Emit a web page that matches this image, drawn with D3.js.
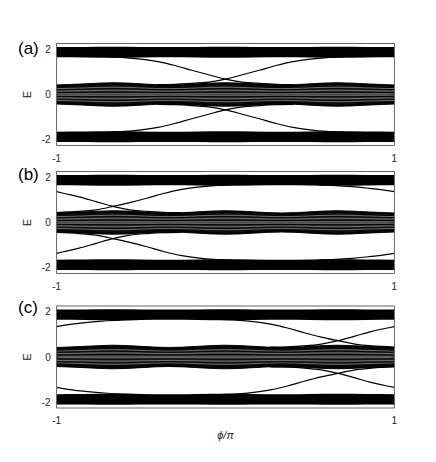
<!DOCTYPE html>
<html><head><meta charset="utf-8">
<script src="https://cdn.jsdelivr.net/npm/d3@7/dist/d3.min.js"></script>
<style>body{margin:0;background:#fff}svg{display:block}</style>
</head><body>
<svg id="chart" width="436" height="462"></svg>
<script>
// ---------- data ----------
const phiTicks = [-1, 1];
const eTicks = [2, 0, -2];
const panelLabels = ["(a)", "(b)", "(c)"];
const xLabel = "\u03D5/\u03C0";
const yLabel = "E";

// bulk band envelopes (E) sampled at phiGrid (same in every panel)
const phiGrid = [-1, -0.833, -0.667, -0.5, -0.333, -0.167, 0, 0.167, 0.333, 0.5, 0.667, 0.833, 1];
const upperBandTop    = [2.10, 2.10, 2.11, 2.10, 2.10, 2.10, 2.11, 2.10, 2.10, 2.10, 2.11, 2.10, 2.10];
const upperBandBottom = [1.64, 1.63, 1.62, 1.63, 1.64, 1.63, 1.62, 1.63, 1.64, 1.63, 1.62, 1.63, 1.64];
const lowerBandTop    = [-1.64, -1.63, -1.62, -1.63, -1.64, -1.63, -1.62, -1.63, -1.64, -1.63, -1.62, -1.63, -1.64];
const lowerBandBottom = [-2.10, -2.10, -2.11, -2.10, -2.10, -2.10, -2.11, -2.10, -2.10, -2.10, -2.11, -2.10, -2.10];
const middleBandTop    = [0.42, 0.47, 0.52, 0.47, 0.42, 0.47, 0.52, 0.47, 0.42, 0.47, 0.52, 0.47, 0.42];
const middleBandBottom = [-0.42, -0.47, -0.52, -0.47, -0.42, -0.47, -0.52, -0.47, -0.42, -0.47, -0.52, -0.47, -0.42];
// relative position of the eigenvalue lines inside the middle band (-1 bottom .. 1 top)
const middleDarkLevels  = [1, 0.95, 0.89, 0.82, 0.73, 0.5, 0.2, -0.2, -0.5, -0.73, -0.82, -0.89, -0.95, -1];
const middleLightLevels = [0.62, 0.36, 0.07, -0.07, -0.36, -0.62];

// in-gap (edge) states, [phi/pi, E]
const edgeA1 = [[-0.7,1.66],[-0.6,1.63],[-0.5,1.56],[-0.4,1.45],[-0.3,1.28],[-0.2,1.07],[-0.1,0.87],[0,0.68],[0.1,0.55],[0.2,0.49],[0.3,0.45],[0.4,0.44]];
const edgeA2 = [[-0.4,0.44],[-0.3,0.45],[-0.2,0.49],[-0.1,0.55],[0,0.68],[0.1,0.87],[0.2,1.07],[0.3,1.28],[0.4,1.45],[0.5,1.56],[0.6,1.63],[0.7,1.66]];
const edgeA3 = [[-0.7,-1.66],[-0.6,-1.63],[-0.5,-1.56],[-0.4,-1.45],[-0.3,-1.28],[-0.2,-1.07],[-0.1,-0.87],[0,-0.68],[0.1,-0.55],[0.2,-0.49],[0.3,-0.45],[0.4,-0.44]];
const edgeA4 = [[-0.4,-0.44],[-0.3,-0.45],[-0.2,-0.49],[-0.1,-0.55],[0,-0.68],[0.1,-0.87],[0.2,-1.07],[0.3,-1.28],[0.4,-1.45],[0.5,-1.56],[0.6,-1.63],[0.7,-1.66]];

const edgeB1 = [[-1,1.36],[-0.967,1.30],[-0.867,1.13],[-0.767,0.92],[-0.667,0.71],[-0.567,0.56],[-0.467,0.49],[-0.367,0.45],[-0.267,0.44]];
const edgeB2 = [[-1,0.44],[-0.867,0.49],[-0.767,0.56],[-0.667,0.71],[-0.567,0.88],[-0.467,1.07],[-0.367,1.28],[-0.267,1.45],[-0.167,1.56],[-0.067,1.63],[0.033,1.66]];
const edgeB3 = [[0.55,1.66],[0.65,1.63],[0.75,1.58],[0.85,1.51],[0.95,1.42],[1,1.36]];
const edgeB4 = [[-1,-1.36],[-0.967,-1.30],[-0.867,-1.13],[-0.767,-0.92],[-0.667,-0.71],[-0.567,-0.56],[-0.467,-0.49],[-0.367,-0.45],[-0.267,-0.44]];
const edgeB5 = [[-1,-0.44],[-0.867,-0.49],[-0.767,-0.56],[-0.667,-0.71],[-0.567,-0.88],[-0.467,-1.07],[-0.367,-1.28],[-0.267,-1.45],[-0.167,-1.56],[-0.067,-1.63],[0.033,-1.66]];
const edgeB6 = [[0.55,-1.66],[0.65,-1.63],[0.75,-1.58],[0.85,-1.51],[0.95,-1.42],[1,-1.36]];

const edgeC1 = [[-1,1.34],[-0.9,1.46],[-0.8,1.54],[-0.7,1.60],[-0.6,1.64],[-0.5,1.66]];
const edgeC2 = [[-0.033,1.66],[0.067,1.63],[0.167,1.56],[0.267,1.45],[0.367,1.28],[0.467,1.07],[0.567,0.88],[0.667,0.72],[0.767,0.57],[0.867,0.49],[1,0.44]];
const edgeC3 = [[0.267,0.44],[0.367,0.45],[0.467,0.49],[0.567,0.57],[0.667,0.72],[0.767,0.92],[0.867,1.13],[0.967,1.29],[1,1.34]];
const edgeC4 = [[-1,-1.34],[-0.9,-1.46],[-0.8,-1.54],[-0.7,-1.60],[-0.6,-1.64],[-0.5,-1.66]];
const edgeC5 = [[-0.033,-1.66],[0.067,-1.63],[0.167,-1.56],[0.267,-1.45],[0.367,-1.28],[0.467,-1.07],[0.567,-0.88],[0.667,-0.72],[0.767,-0.57],[0.867,-0.49],[1,-0.44]];
const edgeC6 = [[0.267,-0.44],[0.367,-0.45],[0.467,-0.49],[0.567,-0.57],[0.667,-0.72],[0.767,-0.92],[0.867,-1.13],[0.967,-1.29],[1,-1.34]];

const panelEdges = [
  [edgeA1, edgeA2, edgeA3, edgeA4],
  [edgeB1, edgeB2, edgeB3, edgeB4, edgeB5, edgeB6],
  [edgeC1, edgeC2, edgeC3, edgeC4, edgeC5, edgeC6]
];

// ---------- layout ----------
const L = 56.7, R = 394.3, H = 102;
const panelTops = [43.5, 171.5, 306];
const labelBaselines = [54, 180, 313];
const textCol = "#262626";
const font = "'Liberation Sans', Arial, Helvetica, sans-serif";

const svg = d3.select("#chart");
const x = d3.scaleLinear().domain([-1, 1]).range([L, R]);

panelTops.forEach((top, k) => {
  const y = d3.scaleLinear().domain([-2.25, 2.25]).range([top + H, top]);
  const g = svg.append("g");
  const clipId = "clip" + k;
  svg.append("clipPath").attr("id", clipId).append("rect")
    .attr("x", L).attr("y", top).attr("width", R - L).attr("height", H);
  const plot = g.append("g").attr("clip-path", `url(#${clipId})`);

  const band = (lo, hi) => d3.area()
    .x((d, i) => x(phiGrid[i]))
    .y0((d, i) => y(lo[i]))
    .y1((d, i) => y(hi[i]))
    .curve(d3.curveNatural)(phiGrid);

  plot.append("path").attr("d", band(upperBandBottom, upperBandTop)).attr("fill", "#000");
  plot.append("path").attr("d", band(lowerBandBottom, lowerBandTop)).attr("fill", "#000");
  plot.append("path").attr("d", band(middleBandBottom, middleBandTop)).attr("fill", "#2e2e2e");

  const levelLine = lev => d3.line()
    .x((d, i) => x(phiGrid[i]))
    .y((d, i) => y(middleBandBottom[i] + (lev + 1) / 2 * (middleBandTop[i] - middleBandBottom[i])))
    .curve(d3.curveNatural)(phiGrid);

  middleLightLevels.forEach(lev => plot.append("path").attr("d", levelLine(lev))
    .attr("fill", "none").attr("stroke", "#9a9a9a").attr("stroke-width", 0.6));
  middleDarkLevels.forEach(lev => plot.append("path").attr("d", levelLine(lev))
    .attr("fill", "none").attr("stroke", "#000").attr("stroke-width", 0.9));

  const edgeLine = d3.line().x(d => x(d[0])).y(d => y(d[1])).curve(d3.curveMonotoneX);
  panelEdges[k].forEach(c => plot.append("path").attr("d", edgeLine(c))
    .attr("fill", "none").attr("stroke", "#000").attr("stroke-width", 1.2));

  // box
  g.append("rect").attr("x", L).attr("y", top).attr("width", R - L).attr("height", H)
    .attr("fill", "none").attr("stroke", textCol).attr("stroke-width", 0.7);

  // y ticks
  eTicks.forEach(t => {
    g.append("line").attr("x1", L).attr("x2", L + 3).attr("y1", y(t)).attr("y2", y(t)).attr("stroke", textCol).attr("stroke-width", 0.7);
    g.append("line").attr("x1", R - 3).attr("x2", R).attr("y1", y(t)).attr("y2", y(t)).attr("stroke", textCol).attr("stroke-width", 0.7);
    g.append("text").attr("x", L - 6).attr("y", y(t)).attr("dy", "0.35em")
      .attr("text-anchor", "end").attr("font-family", font).attr("font-size", 10)
      .attr("fill", textCol).text(t);
  });
  // x ticks
  phiTicks.forEach(t => {
    g.append("text").attr("x", x(t)).attr("y", top + H + 16)
      .attr("text-anchor", "middle").attr("font-family", font).attr("font-size", 10)
      .attr("fill", textCol).text(t);
  });
  // y label
  g.append("text").attr("transform", `translate(31,${top + H / 2}) rotate(-90)`)
    .attr("text-anchor", "middle").attr("font-family", font).attr("font-size", 11)
    .attr("fill", textCol).text(yLabel);
  // panel label
  g.append("text").attr("x", 18).attr("y", labelBaselines[k])
    .attr("font-family", font).attr("font-size", 17).attr("fill", "#000").text(panelLabels[k]);
});

svg.append("text").attr("x", (L + R) / 2).attr("y", 439).attr("text-anchor", "middle")
  .attr("font-family", font).attr("font-size", 11).attr("font-style", "italic")
  .attr("fill", textCol).text(xLabel);
</script>
</body></html>
